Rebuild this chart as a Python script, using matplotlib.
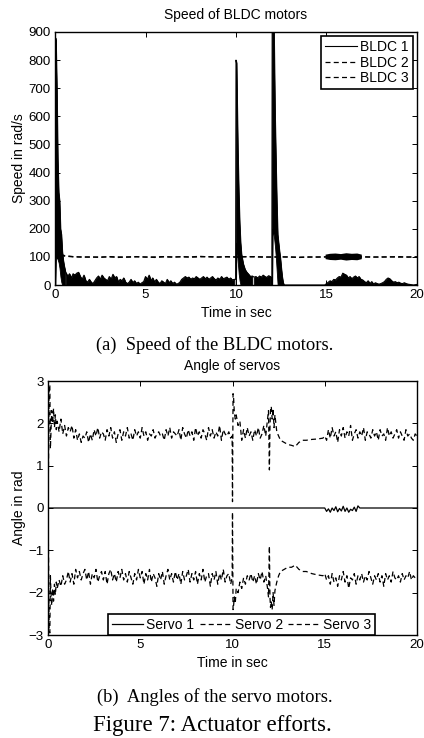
import numpy as np
import matplotlib
matplotlib.use("Agg")
import matplotlib.pyplot as plt

plt.rcParams['font.family'] = ['Liberation Sans', 'DejaVu Sans']

# ---------------- Top plot data: Speed of BLDC motors ----------------
# BLDC 1: dense oscillation drawn as an envelope (upper / lower)
b1_start_t  = [0.0, 0.02, 0.05, 0.10, 0.15, 0.20, 0.25, 0.30, 0.35, 0.40, 0.45, 0.50, 0.55]
b1_start_hi = [0, 880, 870, 700, 450, 330, 300, 200, 180, 120, 90, 70, 55]
b1_start_lo = [0, 0, 90, 100, 90, 80, 60, 30, 10, 0, 0, 0, 0]

b1_quiet1_t0 = 0.6
b1_quiet1 = [45, 30, 40, 25,
             40, 35, 42, 45, 30, 20, 35, 15, 10, 20,
             10, 5, 15, 25, 32, 20, 35, 25, 20, 15,
             30, 20, 38, 25, 30, 10, 20, 15, 25, 10,
             5, 10, 20, 8, 15, 5, 10, 3, 8, 12,
             30, 20, 35, 15, 25, 10, 20, 10, 5, 15,
             10, 5, 20, 8, 15, 5, 10, 3, 5, 10,
             20, 25, 30, 25, 28, 20, 25, 22, 30, 25,
             20, 25, 30, 22, 28, 20, 25, 30, 22, 18,
             25, 20, 30, 22, 25, 28, 20, 25, 18, 20]

b1_spike1_t  = [9.98, 10.0, 10.03, 10.06, 10.10, 10.15, 10.20, 10.25, 10.30, 10.40, 10.50, 10.60, 10.70, 10.80, 10.90]
b1_spike1_hi = [20, 800, 790, 650, 480, 330, 220, 150, 110, 75, 55, 45, 38, 30, 32]
b1_spike1_lo = [0, 0, 150, 120, 80, 40, 15, 0, 0, 0, 0, 0, 0, 0, 0]

b1_quiet2_t0 = 11.0
b1_quiet2 = [28, 30, 25, 32, 28, 35, 30, 27, 33, 30]

b1_spike2_t  = [11.95, 11.98, 12.0, 12.03, 12.06, 12.10, 12.15, 12.20, 12.25, 12.30, 12.35, 12.40, 12.45, 12.50, 12.55, 12.60, 12.65, 14.9]
b1_spike2_hi = [25, 0, 1000, 1000, 1000, 880, 620, 450, 300, 180, 150, 120, 95, 60, 30, 10, 0, 0]
b1_spike2_lo = [0, 0, 0, 200, 190, 170, 140, 100, 50, 0, 0, 0, 0, 0, 0, 0, 0, 0]

b1_quiet3_t0 = 15.0
b1_quiet3 = [5, 10, 15, 12, 20, 18, 25, 30, 28, 42,
             38, 35, 25, 30, 22, 28, 32, 25, 30, 20,
             18, 12, 8, 15, 5, 12, 3, 8, 5, 3,
             5, 8, 12, 20, 25, 22, 15, 10, 12, 8,
             10, 6, 5, 8, 5, 3, 2, 1, 0, 1, 2]

# BLDC 2 / BLDC 3: hover speed near 100 rad/s
b2_t = [0.3, 0.5, 1.0, 1.5, 2.0, 2.5, 3.0, 3.5, 4.0, 4.5, 5.0, 5.5, 6.0, 6.5, 7.0, 7.5, 8.0, 8.5, 9.0, 9.5, 10.0,
        10.5, 11.0, 11.5, 12.0, 12.5, 13.0, 13.5, 14.0, 14.5, 15.0, 15.5, 16.0, 16.5, 17.0, 17.5, 18.0, 18.5, 19.0, 19.5, 20.0]
b2_v = [110, 105, 101, 99, 100, 98, 101, 100, 99, 100, 100, 98, 100, 99, 101, 100, 102, 100, 99, 101, 100,
        101, 100, 99, 100, 100, 99, 98, 99, 100, 100, 99, 101, 100, 100, 99, 100, 100, 99, 100, 100]
b3_v = [108, 103, 100, 100, 99, 100, 100, 98, 100, 101, 99, 100, 101, 100, 100, 99, 100, 101, 100, 100, 99,
        100, 101, 100, 99, 100, 100, 99, 100, 99, 100, 100, 100, 100, 100, 100, 99, 100, 101, 99, 100]
b3_band_t  = [14.95, 15.2, 15.5, 15.8, 16.1, 16.4, 16.7, 16.95]
b3_band_hi = [108, 111, 112, 110, 113, 111, 112, 108]
b3_band_lo = [92, 89, 88, 90, 87, 89, 88, 92]

# ---------------- Bottom plot data: Angle of servos ----------------
s_start_t = [0.0, 0.03, 0.06, 0.10, 0.13, 0.16, 0.20, 0.25, 0.30, 0.35, 0.40, 0.45]
s2_start  = [0, 1.2, 2.9, 2.9, 1.4, 1.8, 2.3, 2.0, 2.35, 1.9, 2.2, 1.85]
s3_start  = [0, -1.2, -2.9, -2.95, -1.6, -2.0, -2.3, -1.9, -2.2, -1.8, -2.05, -1.75]

s_noise1_t0 = 0.5
s2_noise1 = [2.05, 1.8, 2.1, 1.75, 1.95,
             1.7, 1.9, 1.8, 1.95, 1.65, 1.85, 1.6, 1.75, 1.55, 1.7,
             1.65, 1.8, 1.55, 1.75, 1.6, 1.85, 1.7, 1.9, 1.65, 1.8,
             1.75, 1.6, 1.85, 1.7, 1.9, 1.65, 1.8, 1.55, 1.75, 1.85,
             1.6, 1.8, 1.7, 1.9, 1.65, 1.75, 1.6, 1.85, 1.7, 1.8,
             1.65, 1.9, 1.7, 1.8, 1.6, 1.75, 1.7, 1.85, 1.65, 1.75,
             1.8, 1.7, 1.75, 1.6, 1.85, 1.7, 1.9, 1.65, 1.8, 1.75,
             1.7, 1.85, 1.6, 1.9, 1.75, 1.65, 1.85, 1.7, 1.8, 1.6,
             1.9, 1.7, 1.8, 1.65, 1.85, 1.75, 1.6, 1.9, 1.7, 1.85,
             1.65, 1.8, 1.7, 1.95, 1.6, 1.85, 1.75, 1.7, 1.8, 1.65]
s3_noise1 = [-1.9, -1.7, -1.85, -1.6, -1.8,
             -1.7, -1.5, -1.75, -1.55, -1.8, -1.45, -1.65, -1.5, -1.7, -1.55,
             -1.45, -1.7, -1.5, -1.8, -1.55, -1.65, -1.45, -1.75, -1.6, -1.5,
             -1.7, -1.5, -1.8, -1.55, -1.45, -1.7, -1.55, -1.75, -1.5, -1.65,
             -1.45, -1.7, -1.55, -1.75, -1.5, -1.65, -1.8, -1.55, -1.7, -1.45,
             -1.65, -1.5, -1.8, -1.55, -1.7, -1.45, -1.75, -1.55, -1.65, -1.85,
             -1.55, -1.7, -1.5, -1.8, -1.6, -1.45, -1.7, -1.55, -1.75, -1.5,
             -1.7, -1.55, -1.8, -1.5, -1.7, -1.6, -1.45, -1.75, -1.55, -1.7,
             -1.5, -1.8, -1.55, -1.7, -1.45, -1.75, -1.6, -1.55, -1.85, -1.55,
             -1.7, -1.5, -1.8, -1.55, -1.7, -1.45, -1.75, -1.6, -1.55, -1.8]

s_spike1_t = [9.98, 10.0, 10.03, 10.06, 10.10, 10.15, 10.20, 10.30, 10.40, 10.50, 10.60, 10.70, 10.80, 10.90]
s2_spike1  = [1.7, 0.15, 2.7, 2.6, 2.25, 2.1, 2.2, 1.95, 2.05, 1.6, 1.85, 1.65, 1.9, 1.7]
s3_spike1  = [-1.65, -0.1, -2.4, -2.3, -2.1, -2.25, -1.9, -2.0, -1.75, -1.9, -1.65, -1.8, -1.6, -1.7]

s_quiet2_t0 = 11.0
s2_quiet2 = [1.8, 1.6, 1.85, 1.7, 1.9, 1.65, 1.75, 1.95, 1.7]
s3_quiet2 = [-1.55, -1.75, -1.6, -1.8, -1.55, -1.7, -1.5, -1.75, -1.6]

s_spike2_t = [11.9, 11.95, 12.0, 12.03, 12.06, 12.10, 12.15, 12.20, 12.25, 12.30, 12.40, 12.50, 12.60, 12.80,
              13.0, 13.2, 13.4, 13.6, 13.8, 14.0, 14.3, 14.6, 14.9]
s2_spike2 = [2.1, 2.3, 0.9, 1.9, 2.3, 2.4, 2.1, 2.35, 1.9, 2.2, 1.8, 1.7, 1.6, 1.55,
             1.5, 1.48, 1.45, 1.55, 1.6, 1.6, 1.62, 1.63, 1.65]
s3_spike2 = [-1.9, -2.1, -0.9, -2.1, -2.35, -2.2, -2.4, -2.0, -2.3, -1.95, -1.75, -1.6, -1.5, -1.45,
             -1.4, -1.4, -1.35, -1.45, -1.5, -1.5, -1.55, -1.58, -1.6]

s_noise3_t0 = 15.0
s2_noise3 = [1.7, 1.6, 1.85, 1.65, 1.9, 1.7, 1.8, 1.55, 1.85, 1.7,
             1.9, 1.65, 1.8, 1.7, 1.95, 1.6, 1.75, 1.85, 1.65, 1.8,
             1.7, 1.9, 1.6, 1.8, 1.75, 1.65, 1.85, 1.7, 1.8, 1.6,
             1.85, 1.7, 1.75, 1.6, 1.9, 1.7, 1.8, 1.65, 1.75, 1.85,
             1.65, 1.8, 1.7, 1.6, 1.85, 1.7, 1.75, 1.65, 1.6, 1.75, 1.7]
s3_noise3 = [-1.55, -1.7, -1.6, -1.8, -1.55, -1.75, -1.65, -1.85, -1.6, -1.7,
             -1.5, -1.75, -1.6, -1.9, -1.65, -1.7, -1.55, -1.8, -1.6, -1.7,
             -1.55, -1.75, -1.6, -1.7, -1.5, -1.65, -1.8, -1.6, -1.7, -1.55,
             -1.75, -1.6, -1.85, -1.55, -1.7, -1.6, -1.75, -1.5, -1.65, -1.7,
             -1.6, -1.75, -1.55, -1.7, -1.6, -1.65, -1.5, -1.7, -1.6, -1.65, -1.6]

s1_t = [0.0, 14.9]
s1_v = [0.0, 0.0]
s1_wig_t0 = 15.0
s1_wig = [0, -0.08, -0.02, -0.1, 0.0, -0.06, 0.03, -0.09, -0.01, -0.07, 0.04,
          -0.08, 0.0, -0.1, -0.03, -0.06, 0.02, -0.08, 0.05, 0.0, 0.0]
s1_end_t = [17.1, 20.0]
s1_end_v = [0.0, 0.0]

x_ticks = [0, 5, 10, 15, 20]
top_yticks = [0, 100, 200, 300, 400, 500, 600, 700, 800, 900]
bot_yticks = [-3, -2, -1, 0, 1, 2, 3]


def grid(t0, vals, step=0.1):
    n = len(vals)
    return list(np.round(t0 + step * np.arange(n), 3))


W, H = 424, 738
fig = plt.figure(figsize=(W / 100, H / 100), dpi=100)

FS = 10
TFS = 9.6
DASH = (0, (4.0, 2.6))


def style(ax):
    ax.tick_params(direction='in', length=3.5, width=0.7, top=True, right=True,
                   labelsize=TFS, pad=3, colors='black')
    for s in ax.spines.values():
        s.set_linewidth(1.0)


# ------------- Top axes -------------
ax1 = fig.add_axes([55 / W, 1 - 285 / H, 362 / W, 253 / H])
for t, hi, lo in [(b1_start_t, b1_start_hi, b1_start_lo),
                  (b1_spike1_t, b1_spike1_hi, b1_spike1_lo),
                  (b1_spike2_t, b1_spike2_hi, b1_spike2_lo)]:
    ax1.fill_between(t, lo, hi, facecolor='black', edgecolor='black', linewidth=0.6)
for t0, vals in [(b1_quiet1_t0, b1_quiet1), (b1_quiet2_t0, b1_quiet2), (b1_quiet3_t0, b1_quiet3)]:
    ax1.fill_between(grid(t0, vals), 0, vals, facecolor='black', edgecolor='black', linewidth=0.6)
t_all = (b1_start_t + grid(b1_quiet1_t0, b1_quiet1) + b1_spike1_t + grid(b1_quiet2_t0, b1_quiet2)
         + b1_spike2_t + grid(b1_quiet3_t0, b1_quiet3))
v_all = b1_start_hi + b1_quiet1 + b1_spike1_hi + b1_quiet2 + b1_spike2_hi + b1_quiet3
l1, = ax1.plot(t_all, v_all, color='black', linewidth=0.8, label='BLDC 1')
l2, = ax1.plot(b2_t, b2_v, color='black', linewidth=0.9, linestyle=DASH, label='BLDC 2')
l3, = ax1.plot(b2_t, b3_v, color='black', linewidth=0.9, linestyle=DASH, label='BLDC 3')
ax1.fill_between(b3_band_t, b3_band_lo, b3_band_hi, facecolor='black', edgecolor='none')
ax1.set_xlim(0, 20)
ax1.set_ylim(0, 900)
ax1.set_xticks(x_ticks)
ax1.set_yticks(top_yticks)
style(ax1)
ax1.set_title('Speed of BLDC motors', fontsize=FS, pad=9)
ax1.set_xlabel('Time in sec', fontsize=FS, labelpad=3.5)
ax1.set_ylabel('Speed in rad/s', fontsize=FS, labelpad=2)
leg1 = ax1.legend(handles=[l1, l2, l3], loc='upper right', fontsize=FS, frameon=True, fancybox=False,
                  edgecolor='black', handlelength=2.3, handletextpad=0.2, borderpad=0.3,
                  labelspacing=0.1, borderaxespad=0.3)
leg1.get_frame().set_linewidth(1.2)
leg1.get_frame().set_alpha(1)

# ------------- Bottom axes -------------
ax2 = fig.add_axes([48 / W, 1 - 635 / H, 369 / W, 254 / H])
s1_tt = s1_t + grid(s1_wig_t0, s1_wig) + s1_end_t
s1_vv = s1_v + s1_wig + s1_end_v
s2_tt = (s_start_t + grid(s_noise1_t0, s2_noise1) + s_spike1_t + grid(s_quiet2_t0, s2_quiet2)
         + s_spike2_t + grid(s_noise3_t0, s2_noise3))
s2_vv = s2_start + s2_noise1 + s2_spike1 + s2_quiet2 + s2_spike2 + s2_noise3
s3_tt = (s_start_t + grid(s_noise1_t0, s3_noise1) + s_spike1_t + grid(s_quiet2_t0, s3_quiet2)
         + s_spike2_t + grid(s_noise3_t0, s3_noise3))
s3_vv = s3_start + s3_noise1 + s3_spike1 + s3_quiet2 + s3_spike2 + s3_noise3
m1, = ax2.plot(s1_tt, s1_vv, color='black', linewidth=0.9, label='Servo 1')
m2, = ax2.plot(s2_tt, s2_vv, color='black', linewidth=0.9, linestyle=DASH, label='Servo 2')
m3, = ax2.plot(s3_tt, s3_vv, color='black', linewidth=0.9, linestyle=DASH, label='Servo 3')
ax2.set_xlim(0, 20)
ax2.set_ylim(-3, 3)
ax2.set_xticks(x_ticks)
ax2.set_yticks(bot_yticks)
style(ax2)
ax2.set_title('Angle of servos', fontsize=FS, pad=8)
ax2.set_xlabel('Time in sec', fontsize=FS, labelpad=3.5)
ax2.set_ylabel('Angle in rad', fontsize=FS, labelpad=2)
leg2 = ax2.legend(handles=[m1, m2, m3], loc='lower center', bbox_to_anchor=(0.524, 0.0), ncol=3,
                  fontsize=FS, frameon=True, fancybox=False, edgecolor='black', handlelength=2.3,
                  handletextpad=0.2, columnspacing=0.4, borderpad=0.25, borderaxespad=0.0)
leg2.get_frame().set_linewidth(1.2)
leg2.get_frame().set_alpha(1)

# ------------- Captions -------------
serif = ['Liberation Serif', 'DejaVu Serif']
fig.text(215 / W, 1 - 345 / H, '(a)  Speed of the BLDC motors.', ha='center', va='center',
         fontsize=13.3, family=serif)
fig.text(215 / W, 1 - 697 / H, '(b)  Angles of the servo motors.', ha='center', va='center',
         fontsize=13.3, family=serif)
fig.text(212 / W, 1 - 725 / H, 'Figure 7: Actuator efforts.', ha='center', va='center',
         fontsize=16.5, family=serif)

fig.savefig('out.png', dpi=100)
